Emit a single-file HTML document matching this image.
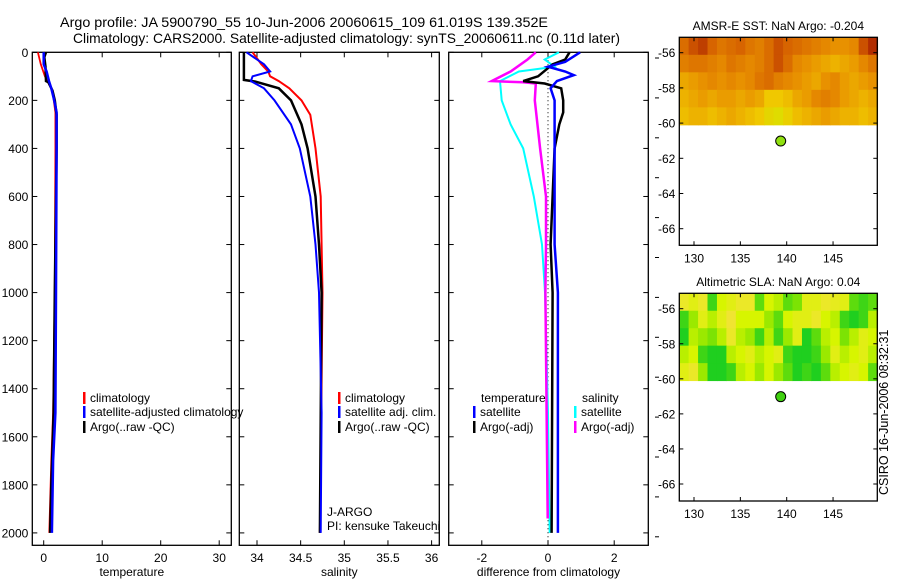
<!DOCTYPE html>
<html><head><meta charset="utf-8">
<style>
html,body{margin:0;padding:0;background:#fff;}
svg{display:block;font-family:"Liberation Sans",Arial,sans-serif;}
text{fill:#000;}
</style></head>
<body>
<svg id="c" width="900" height="580" viewBox="0 0 900 580" xmlns="http://www.w3.org/2000/svg">
<text x="60" y="27" font-size="14" textLength="488" lengthAdjust="spacingAndGlyphs">Argo profile: JA 5900790_55 10-Jun-2006 20060615_109 61.019S 139.352E</text>
<text x="73" y="43" font-size="14" textLength="547" lengthAdjust="spacingAndGlyphs">Climatology: CARS2000. Satellite-adjusted climatology: synTS_20060611.nc (0.11d later)</text>
<text transform="translate(888,495) rotate(-90)" font-size="12.5">CSIRO 16-Jun-2006 08:32:31</text>
<g id="layer"></g>
</svg>
<script>
// ---- Profile data ----
const tDepthClim = [0,50,100,160,250,400,1000,1500,1700,2000];
const tClim      = [-1.0,-0.5,0.2,1.5,2.0,2.0,1.9,1.6,1.3,0.95];
const tDepthSat  = [0,50,80,120,150,200,250,400,1000,1500,1700,2000];
const tSat       = [0.0,0.0,0.5,0.9,1.3,1.8,2.2,2.2,2.1,2.0,1.6,1.4];
const tDepthArgo = [0,20,60,120,125,160,200,260,400,1000,1500,1800,2000];
const tArgo      = [0.4,0.1,0.3,0.4,0.8,1.5,1.9,2.2,2.2,1.9,1.7,1.3,1.1];

const sDepthClim = [0,50,80,100,120,150,200,260,400,600,1000,2000];
const sClim      = [33.95,34.05,34.13,34.15,34.25,34.37,34.51,34.61,34.67,34.73,34.75,34.72];
const sDepthSat  = [0,50,80,100,120,150,200,300,400,600,800,1000,1500,2000];
const sSat       = [33.88,34.08,34.15,33.95,33.93,34.08,34.2,34.39,34.49,34.61,34.67,34.71,34.74,34.73];
const sDepthArgo = [0,115,122,150,200,300,400,600,800,1000,2000];
const sArgo      = [33.85,33.85,33.98,34.25,34.39,34.51,34.58,34.67,34.71,34.74,34.72];

const dDepthTSat  = [0,40,60,80,95,120,150,200,400,800,1000,2000];
const dTSat       = [0.97,0.52,0,0.52,0.78,0.27,0.08,0.2,0.2,0.2,0.3,0.3];
const dDepthTArgo = [0,30,50,100,120,130,150,200,250,300,400,600,800,1000,2000];
const dTArgo      = [0.65,0.52,0.14,-0.3,-0.75,-0.1,0.4,0.46,0.46,0.34,0.2,0.14,0.08,0.14,0.11];
const dDepthSSat  = [0,30,60,80,120,200,300,400,600,800,1000,1500,2000];
const dSSat       = [0.33,-0.1,0.2,-0.88,-1.45,-1.4,-1.13,-0.75,-0.43,-0.18,-0.09,0.0,0.05];
const dDepthSArgo = [0,30,80,120,125,130,200,400,600,800,1000,1940];
const dSArgo      = [-0.37,-0.62,-1.13,-1.7,-0.75,-0.37,-0.4,-0.24,-0.06,-0.06,-0.08,-0.01];

const depthTicks = [0,200,400,600,800,1000,1200,1400,1600,1800,2000];
const tempTicks = [0,10,20,30];
const salTicks = [34,34.5,35,35.5,36];
const salTickLabels = ["34","34.5","35","35.5","36"];
const diffTicks = [-2,0,2];
const diffTickLabels = ["-2","0","2"];

// ---- Map data (grid 21 lon x 5 lat cells) ----
const mapLons = [130,135,140,145];
const mapLats = [-56,-58,-60,-62,-64,-66];
const sstGrid = [
[.75,.85,.9,.8,.7,.75,.8,.7,.65,.75,.85,.8,.75,.7,.65,.6,.55,.55,.6,.85,.95],
[.65,.7,.7,.65,.6,.7,.65,.6,.65,.75,.85,.75,.6,.55,.5,.45,.4,.45,.5,.6,.7],
[.45,.5,.55,.6,.55,.6,.55,.6,.7,.75,.65,.6,.55,.5,.45,.55,.6,.5,.45,.5,.55],
[.4,.45,.5,.45,.5,.5,.45,.5,.45,.3,.3,.35,.45,.5,.6,.65,.6,.5,.45,.4,.45],
[.35,.4,.4,.35,.4,.45,.4,.35,.3,.2,.15,.25,.35,.4,.45,.5,.45,.4,.4,.35,.4]];
const slaGrid = [
[.9,.8,.9,.2,.7,.8,.9,.9,.3,.7,.6,.3,.4,.8,.8,.9,.85,.8,.3,.2,.3],
[.2,.5,.8,.6,.8,.95,.7,.7,.7,.5,.3,.7,.8,.8,.9,.7,.6,.2,.1,.2,.6],
[.1,.6,.5,.4,.6,.9,.6,.5,.2,.6,.2,.5,.8,.1,.3,.6,.7,.4,.6,.8,.7],
[.6,.7,.2,.1,.1,.6,.7,.8,.6,.7,.8,.2,.1,.1,.2,.5,.8,.6,.7,.8,.6],
[.8,.9,.5,.1,.1,.2,.6,.7,.5,.7,.5,.3,.1,.2,.1,.3,.6,.7,.8,.7,.3]];
const floatLon = 139.352, floatLat = -61.019;

const NS="http://www.w3.org/2000/svg";
const L=document.getElementById('layer');
function mk(tag,attrs,parent){const e=document.createElementNS(NS,tag);for(const k in attrs)e.setAttribute(k,attrs[k]);(parent||L).appendChild(e);return e;}

const yD = d => 52.3 + 0.2403*d;
const PT=545.3;
const panels=[
 {name:'temperature',x0:32.3,x1:231.3,f:v=>43.7+5.85*v,ticks:tempTicks,labels:tempTicks.map(String),ylab:true},
 {name:'salinity',x0:239.3,x1:439.3,f:v=>257+87.3*(v-34),ticks:salTicks,labels:salTickLabels},
 {name:'difference from climatology',x0:448.7,x1:648.3,f:v=>548+33.1*v,ticks:diffTicks,labels:diffTickLabels}];

panels.forEach((p,i)=>{
  const g=mk('g',{});
  
  
  const r=mk('rect',{x:p.x0,y:52.3,width:p.x1-p.x0,height:PT-52.3,fill:'none',stroke:'#000','stroke-width':1.3},g);
  
  
  depthTicks.forEach(d=>{
    const y=yD(d);
    mk('line',{x1:p.x0,x2:p.x0+5,y1:y,y2:y,stroke:'#000'},g);
    mk('line',{x1:p.x1-5,x2:p.x1,y1:y,y2:y,stroke:'#000'},g);
    if(p.ylab){const t=mk('text',{x:p.x0-4,y:y+4.5,'font-size':12,'text-anchor':'end'},g);t.textContent=d;
      
      }
  });
  p.ticks.forEach((v,k)=>{
    const x=p.f(v);
    mk('line',{x1:x,x2:x,y1:PT,y2:PT-5,stroke:'#000'},g);
    mk('line',{x1:x,x2:x,y1:52.3,y2:57.3,stroke:'#000'},g);
    const t=mk('text',{x:x,y:562,'font-size':12,'text-anchor':'middle'},g);t.textContent=p.labels[k];
    
    
  });
  const xt=mk('text',{x:(p.x0+p.x1)/2,y:576,'font-size':12,'text-anchor':'middle'},g);xt.textContent=p.name;
  
  
});

function line(p,depths,vals,color,w,name){
  const pts=depths.map((d,i)=>p.f(vals[i]).toFixed(1)+','+yD(d).toFixed(1)).join(' ');
  const e=mk('polyline',{points:pts,fill:'none',stroke:color,'stroke-width':w,'stroke-linejoin':'miter'});
  
  
}
const [P1,P2,P3]=panels;
line(P1,tDepthClim,tClim,'#f00',1.8,'temp-climatology-line');
line(P1,tDepthArgo,tArgo,'#000',2.5,'temp-argo-line');
line(P1,tDepthSat,tSat,'#00f',2.5,'temp-satellite-line');
line(P2,sDepthClim,sClim,'#f00',2,'sal-climatology-line');
line(P2,sDepthArgo,sArgo,'#000',2.5,'sal-argo-line');
line(P2,sDepthSat,sSat,'#00f',2,'sal-satellite-line');
const zl=mk('line',{x1:P3.f(0),x2:P3.f(0),y1:yD(0),y2:yD(2060),stroke:'#000','stroke-dasharray':'1,3'});


line(P3,dDepthSSat,dSSat,'#0ff',2,'diff-sal-satellite-line');
line(P3,dDepthSArgo,dSArgo,'#f0f',2.5,'diff-sal-argo-line');
line(P3,dDepthTArgo,dTArgo,'#000',2.5,'diff-temp-argo-line');
line(P3,dDepthTSat,dTSat,'#00f',2.5,'diff-temp-satellite-line');

// outer stray ticks
for(let y=58;y<=540;y+=39.9){mk('line',{x1:655,x2:659,y1:y,y2:y,stroke:'#000'});}

// legends
function legend(x,y,color,label,name){
  const g=mk('g',{});
  
  
  if(color) mk('rect',{x:x,y:y-10,width:2.5,height:12,fill:color},g);
  const t=mk('text',{x:x+7,y:y,'font-size':12},g);t.textContent=label;
}
legend(83,402,'#f00','climatology','legend-entry-climatology');
legend(83,416,'#00f','satellite-adjusted climatology','legend-entry-satellite-adjusted');
legend(83,431,'#000','Argo(..raw -QC)','legend-entry-argo');
legend(338,402,'#f00','climatology','legend-entry-sal-climatology');
legend(338,416,'#00f','satellite adj. clim.','legend-entry-sal-satellite');
legend(338,431,'#000','Argo(..raw -QC)','legend-entry-sal-argo');
legend(474,402,null,'temperature','legend-header-temperature');
legend(473,416,'#00f','satellite','legend-entry-diff-temp-satellite');
legend(473,431,'#000','Argo(-adj)','legend-entry-diff-temp-argo');
legend(575,402,null,'salinity','legend-header-salinity');
legend(574,416,'#0ff','satellite','legend-entry-diff-sal-satellite');
legend(574,431,'#f0f','Argo(-adj)','legend-entry-diff-sal-argo');
legend(320,516,null,'J-ARGO','float-program-label');
legend(320,530,null,'PI: kensuke Takeuchi','float-pi-label');

// maps
function lerp(a,b,t){return a.map((v,i)=>Math.round(v+(b[i]-v)*t));}
function ramp(stops,v){for(let i=0;i<stops.length-1;i++){if(v<=stops[i+1][0]){const t=(v-stops[i][0])/(stops[i+1][0]-stops[i][0]);const c=lerp(stops[i][1],stops[i+1][1],t);return 'rgb('+c+')';}}return 'rgb('+stops[stops.length-1][1]+')';}
const sstStops=[[0,[205,240,0]],[0.3,[240,200,0]],[0.55,[232,145,0]],[0.8,[215,100,0]],[1,[165,25,0]]];
const slaStops=[[0,[0,200,40]],[0.45,[140,230,0]],[0.7,[215,245,0]],[1,[245,225,60]]];
function drawMap(top,bot,latA,pxLat,grid,stops,title,titleY,name){
  const g=mk('g',{});
  
  
  const x0=679.3,x1=877.3;
  const fx=lon=>694+(lon-130)*9.27;
  const fy=lat=>latA+(-56-lat)*pxLat;
  const lonStart=128.4, dLon=(149.8-128.4)/21;
  const latTop=-56+(latA-top)/pxLat, latBot=-60.1, dLat=(latTop-latBot)/5;
  grid.forEach((row,r)=>row.forEach((v,c)=>{
    const xa=fx(lonStart+c*dLon), ya=fy(latTop-r*dLat);
    const cell=mk('rect',{x:xa,y:ya,width:fx(lonStart+(c+1)*dLon)-xa+0.5,height:fy(latTop-(r+1)*dLat)-ya+0.5,fill:ramp(stops,v)},g);
    
    
  }));
  const fr=mk('rect',{x:x0,y:top,width:x1-x0,height:bot-top,fill:'none',stroke:'#000','stroke-width':1.3},g);
  
  
  mapLats.forEach(l=>{const y=fy(l);mk('line',{x1:x0,x2:x0+4,y1:y,y2:y,stroke:'#000'},g);mk('line',{x1:x1-4,x2:x1,y1:y,y2:y,stroke:'#000'},g);
    const t=mk('text',{x:x0-4,y:y+4.5,'font-size':12,'text-anchor':'end'},g);t.textContent=l;
    
    });
  mapLons.forEach(l=>{const x=fx(l);mk('line',{x1:x,x2:x,y1:bot,y2:bot-4,stroke:'#000'},g);mk('line',{x1:x,x2:x,y1:top,y2:top+4,stroke:'#000'},g);
    const t=mk('text',{x:x,y:bot+17,'font-size':12,'text-anchor':'middle'},g);t.textContent=l;
    
    });
  const tt=mk('text',{x:(x0+x1)/2,y:titleY,'font-size':12,'text-anchor':'middle'},g);tt.textContent=title;
  
  
  const dot=mk('circle',{cx:fx(floatLon),cy:fy(floatLat),r:5,fill:name==='sst-map'?'#90e010':'#40d010',stroke:'#000','stroke-width':1},g);
  
  
}
drawMap(37.3,245.3,52.7,17.6,sstGrid,sstStops,'AMSR-E SST: NaN Argo: -0.204',30,'sst-map');
drawMap(293.3,501,308.7,17.53,slaGrid,slaStops,'Altimetric SLA: NaN Argo: 0.04',286,'sla-map');
</script>
</body></html>
